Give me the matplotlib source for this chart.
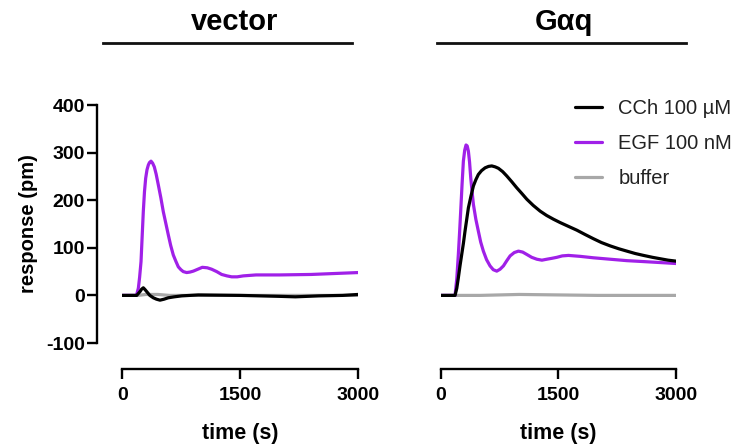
import matplotlib
matplotlib.use("Agg")
import matplotlib.pyplot as plt
from matplotlib.lines import Line2D

plt.rcParams['font.family'] = ['Liberation Sans', 'DejaVu Sans']
plt.rcParams['axes.unicode_minus'] = False

# ---------------- data ----------------
panel_titles = ["vector", "G\u03b1q"]
series_labels = ["CCh 100 \u00b5M", "EGF 100 nM", "buffer"]
series_colors = ["#000000", "#A020E8", "#A8A8A8"]

# vector panel
vec_egf_t = [0, 170, 185, 204, 220, 238, 252, 267, 282, 297, 314, 331, 345, 365, 385, 407, 430,
             458, 490, 521, 555, 585, 615, 648, 680, 712, 745, 775, 818, 860, 903, 960,
             1017, 1080, 1136, 1200, 1263, 1330, 1391, 1460, 1538, 1700, 2000, 2400, 2700, 3000]
vec_egf_y = [0, 0, 3, 15, 38, 71, 122, 176, 218, 246, 264, 274, 279, 282, 278, 270, 255,
             232, 205, 176, 150, 127, 105, 85, 72, 60, 54, 50, 48, 49, 51, 55,
             59, 58, 55, 50, 44, 41, 39, 39, 41, 43, 43, 44, 46, 48]

vec_cch_t = [0, 183, 225, 245, 267, 290, 310, 350, 394, 435, 479, 530, 585, 660, 755, 966,
             1500, 2000, 2200, 2500, 2800, 3000]
vec_cch_y = [0, 0, 8, 13, 16, 12, 8, 0, -5, -8, -10, -8, -5, -3, -1, 1,
             0, -2, -3, -1, 0, 2]

vec_buf_t = [0, 200, 300, 450, 600, 3000]
vec_buf_y = [0, 0, 2, 2, 0, 0]

# G alpha q panel
gq_egf_t = [0, 183, 205, 225, 240, 255, 272, 289, 306, 323, 338, 353, 368, 383, 400, 417,
            448, 480, 510, 544, 585, 629, 670, 715, 757, 800, 843, 885, 938, 991, 1045,
            1098, 1160, 1226, 1290, 1353, 1420, 1481, 1550, 1629, 1780, 1948, 2160, 2374,
            2590, 2799, 3000]
gq_egf_y = [0, 0, 35, 86, 130, 177, 232, 282, 305, 316, 314, 303, 280, 247, 218, 191,
            160, 135, 112, 93, 75, 62, 54, 51, 55, 62, 73, 83, 90, 93, 91,
            86, 80, 76, 74, 76, 78, 80, 83, 84, 82, 79, 76, 73,
            71, 69, 67]

gq_cch_t = [0, 183, 205, 225, 246, 268, 290, 310, 332, 353, 385, 417, 448, 480, 520, 566,
            610, 651, 695, 736, 790, 842, 905, 970, 1035, 1098, 1180, 1268, 1350, 1438,
            1523, 1629, 1736, 1840, 1948, 2050, 2161, 2270, 2374, 2480, 2586, 2700, 2799, 2900, 3000]
gq_cch_y = [0, 0, 15, 37, 62, 86, 110, 135, 160, 184, 208, 230, 243, 254, 262, 268,
            271, 272, 270, 267, 260, 251, 239, 226, 214, 202, 189, 177, 168, 160,
            153, 145, 137, 128, 119, 111, 104, 98, 93, 88, 84, 80, 77, 74, 72]

gq_buf_t = [0, 500, 1000, 1500, 2000, 3000]
gq_buf_y = [0, 0, 2, 1, 0, 0]

x_ticks = [0, 1500, 3000]
y_ticks = [-100, 0, 100, 200, 300, 400]

# ---------------- figure ----------------
W, H = 742, 446
fig = plt.figure(figsize=(W / 100, H / 100), dpi=100)

def px_axes(x0, x1, ytop, ybot):
    return [x0 / W, 1 - ybot / H, (x1 - x0) / W, (ybot - ytop) / H]

ax1 = fig.add_axes(px_axes(122.3, 358.3, 105, 343))
ax2 = fig.add_axes(px_axes(440.7, 676, 105, 343))

panels = [
    (ax1, [(vec_cch_t, vec_cch_y), (vec_egf_t, vec_egf_y), (vec_buf_t, vec_buf_y)]),
    (ax2, [(gq_cch_t, gq_cch_y), (gq_egf_t, gq_egf_y), (gq_buf_t, gq_buf_y)]),
]

for ax, series in panels:
    for idx in [2, 1, 0]:
        t, y = series[idx]
        ax.plot(t, y, color=series_colors[idx], lw=2.3, label=series_labels[idx],
                solid_joinstyle='round', solid_capstyle='round')
    ax.set_xlim(0, 3000)
    ax.set_ylim(-100, 400)
    ax.set_xticks(x_ticks)
    ax.spines['top'].set_visible(False)
    ax.spines['right'].set_visible(False)
    ax.spines['bottom'].set_position(('outward', 19))
    ax.spines['bottom'].set_bounds(0, 3000)
    ax.spines['bottom'].set_linewidth(1.7)
    ax.tick_params(axis='x', length=7, width=1.7, pad=6, labelsize=14)
    ax.set_xlabel("time (s)", fontsize=15.5, fontweight='bold', labelpad=13)
    ax.patch.set_alpha(0)

ax1.set_yticks(y_ticks)
ax1.spines['left'].set_position(('outward', 18))
ax1.spines['left'].set_bounds(-100, 400)
ax1.spines['left'].set_linewidth(1.7)
ax1.tick_params(axis='y', length=7, width=1.7, pad=2, labelsize=14)
ax1.set_ylabel("response (pm)", fontsize=14.5, fontweight='bold', labelpad=6)

ax2.spines['left'].set_visible(False)
ax2.set_yticks([])

for ax in (ax1, ax2):
    for lab in ax.get_xticklabels() + ax.get_yticklabels():
        lab.set_fontweight('bold')

# legend (CCh, EGF, buffer order)
handles, labels = ax2.get_legend_handles_labels()
order = [labels.index(l) for l in series_labels]
leg = ax2.legend([handles[i] for i in order], [labels[i] for i in order],
                 loc='upper left', bbox_to_anchor=(575 / W, 1 - 99 / H),
                 bbox_transform=fig.transFigure, frameon=False,
                 fontsize=14.5, handlelength=1.35, handletextpad=0.8,
                 labelspacing=0.8, borderpad=0, borderaxespad=0)
for txt in leg.get_texts():
    txt.set_color('#222222')

# panel titles with underline bars
title_specs = [(panel_titles[0], 103, 352, 235), (panel_titles[1], 437, 686, 564)]
for text, x0, x1, xc in title_specs:
    fig.text(xc / W, 1 - 22 / H, text, ha='center', va='center',
             fontsize=21, fontweight='bold')
    fig.add_artist(Line2D([x0 / W, x1 / W], [1 - 43 / H, 1 - 43 / H],
                          color='#111111', lw=2.0, transform=fig.transFigure))

fig.savefig("out.png", dpi=100)
